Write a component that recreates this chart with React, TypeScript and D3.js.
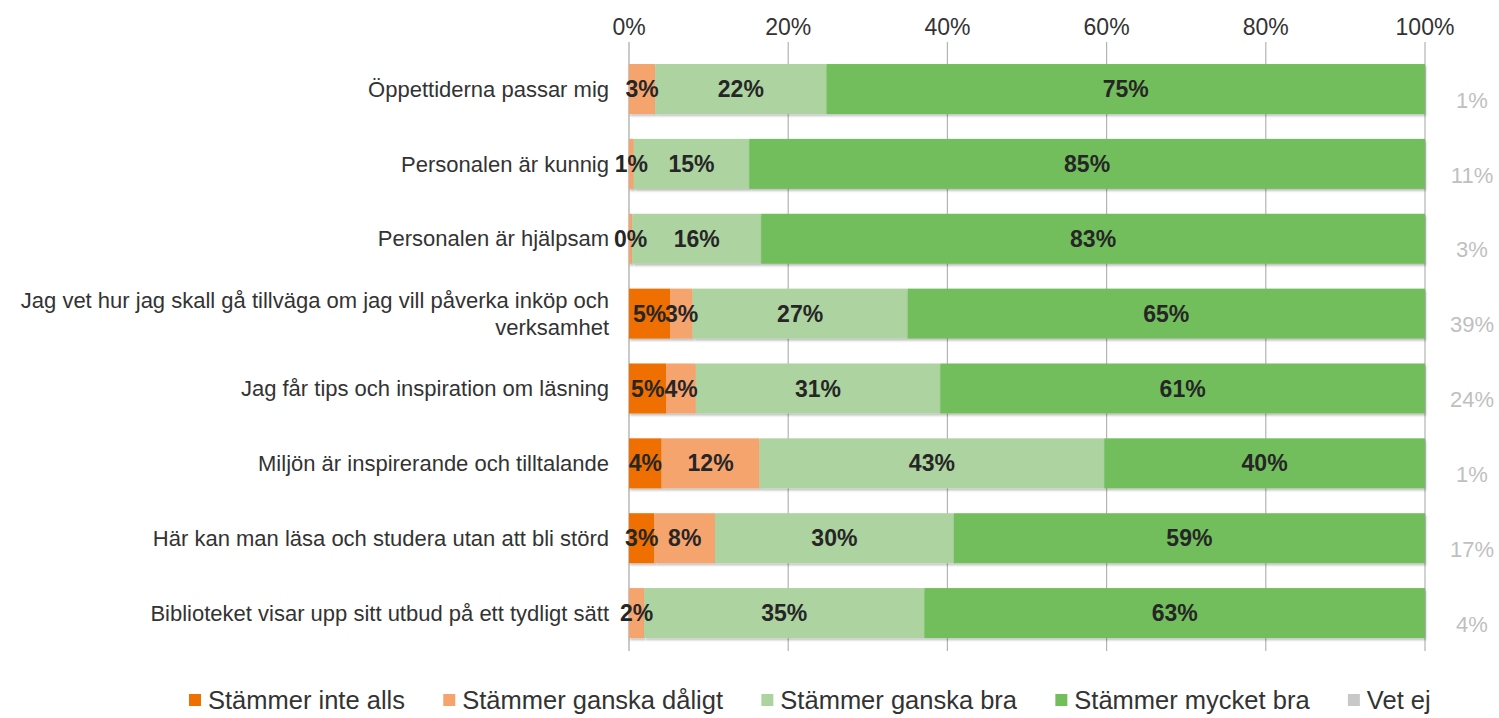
import { useMemo } from 'react';
import * as d3 from 'd3';

const categories = [
  'Öppettiderna passar mig',
  'Personalen är kunnig',
  'Personalen är hjälpsam',
  'Jag vet hur jag skall gå tillväga om jag vill påverka inköp och verksamhet',
  'Jag får tips och inspiration om läsning',
  'Miljön är inspirerande och tilltalande',
  'Här kan man läsa och studera utan att bli störd',
  'Biblioteket visar upp sitt utbud på ett tydligt sätt',
];

const inteAlls = [0, 0, 0, 5.2, 4.7, 4.1, 3.2, 0];
const ganskaDaligt = [3.3, 0.6, 0.4, 2.8, 3.7, 12.3, 7.6, 1.9];
const ganskaBra = [21.5, 14.5, 16.2, 27.0, 30.7, 43.3, 30.0, 35.2];
const mycketBra = [75.2, 84.9, 83.4, 65.0, 60.9, 40.3, 59.2, 62.9];
const vetEj = [1, 11, 3, 39, 24, 1, 17, 4];

const seriesNames = ['Stämmer inte alls', 'Stämmer ganska dåligt', 'Stämmer ganska bra', 'Stämmer mycket bra', 'Vet ej'];
const seriesColors = ['#ef7000', '#f5a46e', '#add3a0', '#72be5b', '#c8c8c8'];
const xTicks = [0, 20, 40, 60, 80, 100];

const W = 1499;
const H = 718;
const FONT = "'Liberation Sans', Arial, sans-serif";

// measure text with a canvas so the legend and the long label lay out like the original
const canvas = typeof document !== 'undefined' ? document.createElement('canvas') : null;
function textWidth(txt: string, size: number, weight = 'normal') {
  const ctx = canvas?.getContext('2d');
  if (!ctx) return txt.length * size * 0.5;
  ctx.font = `${weight} ${size}px ${FONT}`;
  return ctx.measureText(txt).width;
}

function wrap(txt: string, size: number, maxW: number) {
  const words = txt.split(' ');
  const lines: string[] = [];
  let cur = '';
  words.forEach(w => {
    const next = cur ? cur + ' ' + w : w;
    if (cur && textWidth(next, size) > maxW) {
      lines.push(cur);
      cur = w;
    } else cur = next;
  });
  if (cur) lines.push(cur);
  return lines;
}

export default function App() {
  const x = d3.scaleLinear().domain([0, 100]).range([629, 1425]);
  const y = d3.scaleBand<string>().domain(categories).range([51.6, 650.5]).paddingInner(0.332).paddingOuter(0.166);

  const rows = categories.map((c, i) => ({
    cat: c,
    a: inteAlls[i],
    b: ganskaDaligt[i],
    c2: ganskaBra[i],
    d: mycketBra[i],
  }));
  const keys = ['a', 'b', 'c2', 'd'];
  const stacked = d3.stack<any>().keys(keys)(rows);

  const legend = useMemo(() => {
    let lx = 189;
    return seriesNames.map((name, i) => {
      const item = { name, color: seriesColors[i], x: lx };
      lx += 19 + textWidth(name, 25.5) + 38.3;
      return item;
    });
  }, []);

  return (
    <svg width={W} height={H} style={{ position: 'absolute', left: 0, top: 0, background: '#fff' }} fontFamily={FONT}>
      <defs>
        <filter id="shadow" x="-5%" y="-20%" width="110%" height="150%">
          <feDropShadow dx="1" dy="2" stdDeviation="1.2" floodColor="#000" floodOpacity="0.25" />
        </filter>
      </defs>

      {/* grid + top tick labels */}
      {xTicks.map(t => (
        <g key={t}>
          <line x1={x(t)} x2={x(t)} y1={42} y2={651} stroke={t === 0 ? '#a6a6a6' : '#b3b3b3'} strokeWidth={1.2} />
          <text x={x(t)} y={35} textAnchor="middle" fontSize={23} fill="#333">{t}%</text>
        </g>
      ))}

      {/* bars */}
      {stacked.map((s, si) => (
        <g key={s.key} fill={seriesColors[si]}>
          {s.map((d, i) => (d[1] - d[0] > 0 ? (
            <rect key={i} x={x(d[0])} y={y(categories[i])} width={x(d[1]) - x(d[0])} height={y.bandwidth()} filter="url(#shadow)" />
          ) : null))}
        </g>
      ))}

      {/* value labels */}
      {stacked.map((s, si) => (
        <g key={'l' + s.key}>
          {s.map((d, i) => (d[1] - d[0] > 0 ? (
            <text key={i} x={x((d[0] + d[1]) / 2)} y={(y(categories[i]) as number) + y.bandwidth() / 2} dy="0.35em"
              textAnchor="middle" fontSize={23} fontWeight="bold" fill="#262626">
              {Math.round(d[1] - d[0])}%
            </text>
          ) : null))}
        </g>
      ))}

      {/* category labels */}
      {categories.map(c => {
        const lines = wrap(c, 22, 610);
        const cy = (y(c) as number) + y.bandwidth() / 2;
        const lh = 27;
        return (
          <text key={c} x={609} textAnchor="end" fontSize={22} fill="#333">
            {lines.map((ln, k) => (
              <tspan key={k} x={609} y={cy + (k - (lines.length - 1) / 2) * lh} dy="0.35em">{ln}</tspan>
            ))}
          </text>
        );
      })}

      {/* Vet ej */}
      {vetEj.map((v, i) => (
        <text key={'v' + i} x={1472} y={(y(categories[i]) as number) + y.bandwidth() / 2 + 11} dy="0.35em"
          textAnchor="middle" fontSize={22} fill="#bfbfbf">{v}%</text>
      ))}

      {/* legend */}
      {legend.map(l => (
        <g key={l.name}>
          <rect x={l.x} y={694} width={12} height={12} fill={l.color} />
          <text x={l.x + 19} y={700} dy="0.35em" fontSize={25.5} fill="#333">{l.name}</text>
        </g>
      ))}
    </svg>
  );
}
